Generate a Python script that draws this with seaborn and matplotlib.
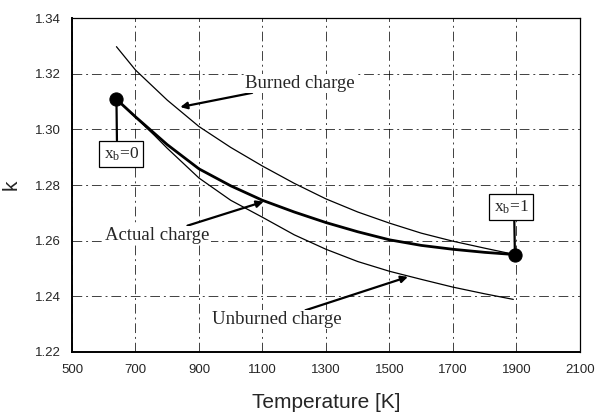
import matplotlib
matplotlib.use("Agg")
import matplotlib.pyplot as plt
import seaborn as sns
import pandas as pd

# ---- data ----
T_burned = [640, 700, 800, 900, 1000, 1100, 1200, 1300, 1400, 1500, 1600, 1700, 1800, 1895]
k_burned = [1.3297, 1.3213, 1.3105, 1.3010, 1.2935, 1.2868, 1.2806, 1.2750, 1.2703, 1.2663,
            1.2627, 1.2598, 1.2573, 1.2550]

T_actual = [640, 700, 800, 900, 1000, 1100, 1200, 1300, 1400, 1500, 1600, 1700, 1800, 1895]
k_actual = [1.3108, 1.3045, 1.2945, 1.2858, 1.2797, 1.2745, 1.2703, 1.2665, 1.2632, 1.2603,
            1.2583, 1.2569, 1.2558, 1.2550]

T_unburned = [640, 700, 760, 800, 900, 1000, 1100, 1200, 1300, 1400, 1500, 1600, 1700, 1800, 1890]
k_unburned = [1.3108, 1.3043, 1.2978, 1.2932, 1.2825, 1.2745, 1.2684, 1.2621, 1.2569, 1.2525,
              1.2490, 1.2461, 1.2433, 1.2409, 1.2389]

T_points = [640, 1895]
k_points = [1.3108, 1.2550]
point_labels = [r"x$_{\rm b}$=0", r"x$_{\rm b}$=1"]

x_ticks = [500, 700, 900, 1100, 1300, 1500, 1700, 1900, 2100]
y_ticks = [1.22, 1.24, 1.26, 1.28, 1.30, 1.32, 1.34]

sns.set_style("white")
plt.rcParams["font.family"] = ["Liberation Sans", "DejaVu Sans"]
plt.rcParams["mathtext.fontset"] = "custom"
plt.rcParams["mathtext.rm"] = "Liberation Serif"
plt.rcParams["mathtext.it"] = "Liberation Serif:italic"

fig = plt.figure(figsize=(5.97, 4.17), dpi=100)
ax = fig.add_axes([0.1206, 0.1559, 0.9715 - 0.1206, 0.9568 - 0.1559])

df_b = pd.DataFrame({"T": T_burned, "k": k_burned})
df_a = pd.DataFrame({"T": T_actual, "k": k_actual})
df_u = pd.DataFrame({"T": T_unburned, "k": k_unburned})
sns.lineplot(data=df_b, x="T", y="k", ax=ax, color="black", linewidth=0.9, sort=False)
sns.lineplot(data=df_u, x="T", y="k", ax=ax, color="black", linewidth=0.9, sort=False)
sns.lineplot(data=df_a, x="T", y="k", ax=ax, color="black", linewidth=2.0, sort=False)
sns.scatterplot(x=T_points, y=k_points, ax=ax, color="black", s=90, zorder=5, edgecolor="black")

ax.set_xlim(500, 2100)
ax.set_ylim(1.22, 1.34)
ax.set_xticks(x_ticks)
ax.set_yticks(y_ticks)
ax.set_yticklabels([f"{v:.2f}" for v in y_ticks])
ax.tick_params(axis="both", labelsize=9.5, length=0)
ax.tick_params(axis="x", pad=9)
ax.tick_params(axis="y", pad=8)
ax.grid(True, color="black", linewidth=0.7, linestyle=(0, (10, 4, 2, 4)), alpha=0.75)
for s in ax.spines.values():
    s.set_color("black")
    s.set_linewidth(0.9)
ax.spines["left"].set_linewidth(1.4)
ax.spines["bottom"].set_linewidth(1.4)
ax.set_xlabel("Temperature [K]", fontsize=15, labelpad=12)
ax.set_ylabel("k", fontsize=15, labelpad=10)

serif = ["Liberation Serif", "DejaVu Serif"]
arrow = dict(arrowstyle="-|>", color="black", lw=1.6, mutation_scale=10, shrinkA=0, shrinkB=0)
tbox = dict(boxstyle="square,pad=0.05", fc="white", ec="none")
ax.annotate("Burned charge", xy=(841, 1.308), xytext=(1045, 1.3165),
            fontsize=13.5, family=serif, ha="left", va="center", arrowprops=arrow, bbox=tbox)
ax.annotate("Actual charge", xy=(1103, 1.274), xytext=(605, 1.262),
            fontsize=13.5, family=serif, ha="left", va="center", arrowprops=arrow, bbox=tbox)
ax.annotate("Unburned charge", xy=(1558, 1.247), xytext=(940, 1.2316),
            fontsize=13.5, family=serif, ha="left", va="center", arrowprops=arrow, bbox=tbox)

box = dict(boxstyle="square,pad=0.25", fc="white", ec="black", lw=0.9)
ax.annotate(point_labels[0], xy=(T_points[0], k_points[0]), xytext=(655, 1.2912),
            fontsize=12.5, family=serif, ha="center", va="center", bbox=box, zorder=6,
            arrowprops=dict(arrowstyle="-", color="black", lw=1.6, shrinkA=0, shrinkB=0,
                            relpos=(0.38, 1.0)))
ax.annotate(point_labels[1], xy=(T_points[1], k_points[1]), xytext=(1883, 1.2721),
            fontsize=12.5, family=serif, ha="center", va="center", bbox=box, zorder=6,
            arrowprops=dict(arrowstyle="-", color="black", lw=1.6, shrinkA=0, shrinkB=0,
                            relpos=(0.59, 0.0)))

fig.savefig("out.png", dpi=100)
